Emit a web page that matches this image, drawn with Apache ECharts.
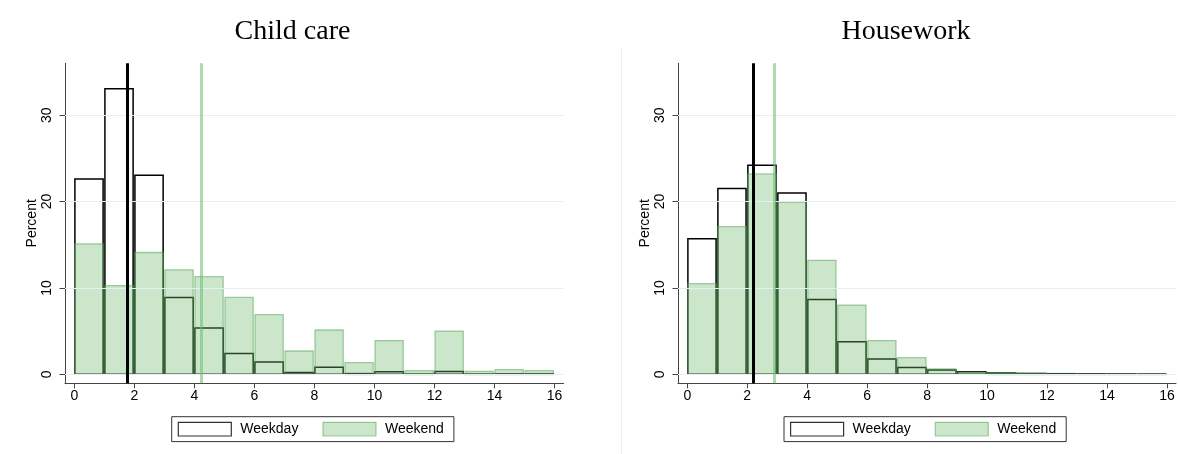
<!DOCTYPE html>
<html><head><meta charset="utf-8">
<script src="https://cdn.jsdelivr.net/npm/echarts@6/dist/echarts.min.js"></script>
<style>html,body{margin:0;padding:0;background:#fff}#c{width:1178px;height:454px}</style>
</head><body><div id="c"></div>
<script>
// ---- data ----
const panelTitles = ['Child care', 'Housework'];
const binStarts = [0,1,2,3,4,5,6,7,8,9,10,11,12,13,14,15];
const childWeekday = [22.6,33.05,23.05,8.9,5.37,2.4,1.43,0.2,0.82,0.08,0.3,0.03,0.32,0.03,0.05,0.05];
const childWeekend = [15.1,10.27,14.1,12.1,11.3,8.9,6.9,2.7,5.13,1.35,3.9,0.42,5.0,0.35,0.54,0.42];
const houseWeekday = [15.7,21.5,24.2,21.0,8.65,3.78,1.77,0.78,0.5,0.3,0.15,0.1,0.07,0.05,0.04,0.03];
const houseWeekend = [10.5,17.1,23.2,19.9,13.2,8.02,3.9,1.93,0.62,0.25,0.13,0.08,0.05,0.03,0.02,0.02];
const childMeans = [1.75, 4.22];   // weekday, weekend
const houseMeans = [2.19, 2.91];
const xTicks = [0,2,4,6,8,10,12,14,16];
const yTicks = [0,10,20,30];
const seriesNames = ['Weekday', 'Weekend'];

// ---- styles ----
const FONT = 'Liberation Sans, Arial, Helvetica, sans-serif';
const greenFill = 'rgba(110,185,110,0.36)';
const greenStroke = 'rgba(90,170,90,0.55)';
const weekdayStyle = {fill: 'none', stroke: '#000', lineWidth: 1.5};
const weekendStyle = {fill: greenFill, stroke: greenStroke, lineWidth: 1.3};

function binData(vals) { return binStarts.map((s, i) => [s, s + 1, vals[i]]); }
function barRenderer(style) {
  return function (params, api) {
    const x0 = api.value(0), x1 = api.value(1), y = api.value(2);
    const pTop = api.coord([x0, y]);
    const pBot = api.coord([x1, 0]);
    return {
      type: 'rect',
      shape: {x: pTop[0] + 0.6, y: pTop[1], width: pBot[0] - pTop[0] - 1.8, height: pBot[1] - pTop[1]},
      style: Object.assign({}, style)
    };
  };
}

const panels = [
  {weekday: childWeekday, weekend: childWeekend, means: childMeans},
  {weekday: houseWeekday, weekend: houseWeekend, means: houseMeans}
];
const gridBoxes = [
  {left: 65, top: 63.3, width: 498.5, height: 320},
  {left: 678, top: 63.3, width: 498, height: 320}
];
const titleCenters = [292.5, 906];
const legendLefts = [171.7, 784];

const grids = [], xAxes = [], yAxes = [], series = [], titles = [], legends = [];
panels.forEach((p, i) => {
  grids.push(Object.assign({containLabel: false}, gridBoxes[i]));
  xAxes.push({
    type: 'value', gridIndex: i, min: -0.31, max: 16.3,
    axisLine: {show: true, onZero: false, lineStyle: {color: '#444', width: 1}},
    axisTick: {show: true, customValues: xTicks, length: 5, lineStyle: {color: '#444'}},
    axisLabel: {customValues: xTicks, margin: 6, fontSize: 14, color: '#000', fontFamily: FONT},
    splitLine: {show: false}
  });
  yAxes.push({
    type: 'value', gridIndex: i, min: -1.04, max: 36,
    name: 'Percent', nameLocation: 'middle', nameGap: 26,
    nameTextStyle: {fontSize: 14, color: '#000', fontFamily: FONT},
    axisLine: {show: true, onZero: false, lineStyle: {color: '#444', width: 1}},
    axisTick: {show: true, customValues: yTicks, length: 5.5, lineStyle: {color: '#444'}},
    axisLabel: {customValues: yTicks, rotate: 90, margin: 11, fontSize: 14, color: '#000', fontFamily: FONT},
    splitLine: {show: false}
  });
  series.push({
    type: 'line', name: 'grid' + i, xAxisIndex: i, yAxisIndex: i, data: [], z: 1, silent: true,
    markLine: {
      silent: true, symbol: 'none', label: {show: false}, animation: false,
      lineStyle: {color: '#e6eff0', width: 1, type: 'solid'},
      data: yTicks.map(v => ({yAxis: v}))
    }
  });
  series.push({
    type: 'custom', name: seriesNames[0], xAxisIndex: i, yAxisIndex: i, z: 2,
    data: binData(p.weekday), encode: {x: [0, 1], y: 2},
    renderItem: barRenderer(weekdayStyle),
    itemStyle: {color: '#fff', borderColor: '#111', borderWidth: 1.2},
    markLine: {
      silent: true, symbol: 'none', label: {show: false}, animation: false,
      lineStyle: {color: '#000', width: 3, type: 'solid'},
      data: [{xAxis: p.means[0]}]
    }
  });
  series.push({
    type: 'custom', name: seriesNames[1], xAxisIndex: i, yAxisIndex: i, z: 3,
    data: binData(p.weekend), encode: {x: [0, 1], y: 2},
    renderItem: barRenderer(weekendStyle),
    itemStyle: {color: greenFill, borderColor: greenStroke, borderWidth: 1.2},
    markLine: {
      silent: true, symbol: 'none', label: {show: false}, animation: false,
      lineStyle: {color: 'rgba(110,185,110,0.55)', width: 3, type: 'solid'},
      data: [{xAxis: p.means[1]}]
    }
  });
  titles.push({
    text: panelTitles[i], left: titleCenters[i], top: 18, textAlign: 'center', padding: 0,
    textStyle: {fontFamily: 'Liberation Serif, Times New Roman, serif', fontSize: 28, fontWeight: 'normal', color: '#000'}
  });
  legends.push({
    left: legendLefts[i], top: 416.7, orient: 'horizontal',
    padding: [5, 10, 5, 6], itemWidth: 53, itemHeight: 13.7, itemGap: 24,
    borderColor: '#333', borderWidth: 1, selectedMode: false,
    textStyle: {fontSize: 14, color: '#000', fontFamily: FONT, padding: [0, 0, 0, 4]},
    data: [
      {name: seriesNames[0], icon: 'rect', itemStyle: {color: '#fff', borderColor: '#333', borderWidth: 1.2}},
      {name: seriesNames[1], icon: 'rect', itemStyle: {color: greenFill, borderColor: greenStroke, borderWidth: 1.2}}
    ]
  });
});

const chart = echarts.init(document.getElementById('c'), null, {renderer: 'canvas'});
chart.setOption({
  animation: false,
  backgroundColor: '#fff',
  title: titles,
  legend: legends,
  grid: grids,
  xAxis: xAxes,
  yAxis: yAxes,
  series: series,
  graphic: [{
    type: 'line', silent: true,
    shape: {x1: 621.5, y1: 48, x2: 621.5, y2: 454},
    style: {stroke: '#eeeeee', lineWidth: 1}
  }]
});
</script></body></html>
